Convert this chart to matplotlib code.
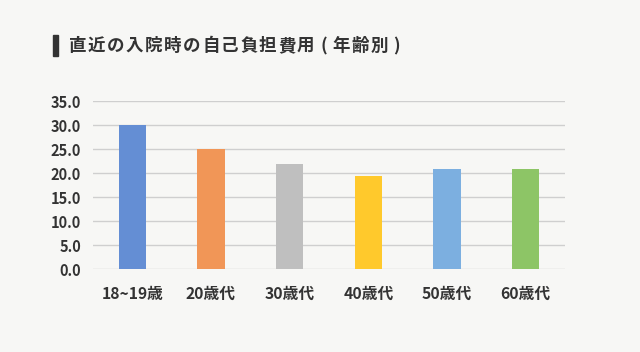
import matplotlib
matplotlib.use("Agg")
import matplotlib.pyplot as plt
from matplotlib.patches import Rectangle

plt.rcParams['font.family'] = ['Noto Sans CJK JP', 'DejaVu Sans']

# data
categories = ["18~19歳", "20歳代", "30歳代", "40歳代", "50歳代", "60歳代"]
costs = [30.0, 25.0, 22.0, 19.4, 20.9, 20.9]
bar_colors = ["#648ed4", "#f19657", "#bfbfbf", "#ffc92c", "#7cafe0", "#8dc566"]
yticks = [0, 5, 10, 15, 20, 25, 30, 35]
title = "直近の入院時の自己負担費用(年齢別)"

W, H, DPI = 640, 352, 100
bg = "#f7f7f5"
text_color = "#333333"

fig = plt.figure(figsize=(W / DPI, H / DPI), dpi=DPI, facecolor=bg)
ax = fig.add_axes([93 / W, 1 - 269.3 / H, (565 - 93) / W, (269.3 - 101.3) / H])
ax.set_facecolor(bg)

x = range(len(categories))
ax.bar(x, costs, width=0.345, color=bar_colors, zorder=3)
ax.set_xlim(-0.5, len(categories) - 0.5)
ax.set_ylim(0, 35)
ax.set_yticks(yticks)
ax.set_yticklabels([f"{v:.1f}" for v in yticks], fontsize=10.5, color=text_color, fontweight='bold')
ax.set_xticks(list(x))
ax.set_xticklabels(categories, fontsize=11.3, color=text_color, fontweight='bold')
ax.tick_params(axis='y', length=0, pad=8.5)
ax.tick_params(axis='x', length=0, pad=12)
ax.grid(axis='y', color="#cfcfcf", linewidth=1.0, zorder=0)
ax.set_axisbelow(True)
for s in ax.spines.values():
    s.set_visible(False)

# heading marker
fig.patches.append(Rectangle((53 / W, 1 - 56 / H), 4.5 / W, 21 / H,
                             transform=fig.transFigure, color=text_color))

# heading with letter spacing, laid out character by character
renderer = fig.canvas.get_renderer()
px = 69.0
tracking = 1.5
paren_gap = 4.0
fs = 12.6
for ch in title:
    if ch in "()":
        px += paren_gap
    t = fig.text(px / W, 1 - 46 / H, ch, fontsize=fs, color=text_color,
                 fontweight='bold', va='center', ha='left')
    w = t.get_window_extent(renderer).width
    px += w + tracking
    if ch == "(":
        px += paren_gap

fig.savefig("out.png", dpi=DPI, facecolor=bg)
